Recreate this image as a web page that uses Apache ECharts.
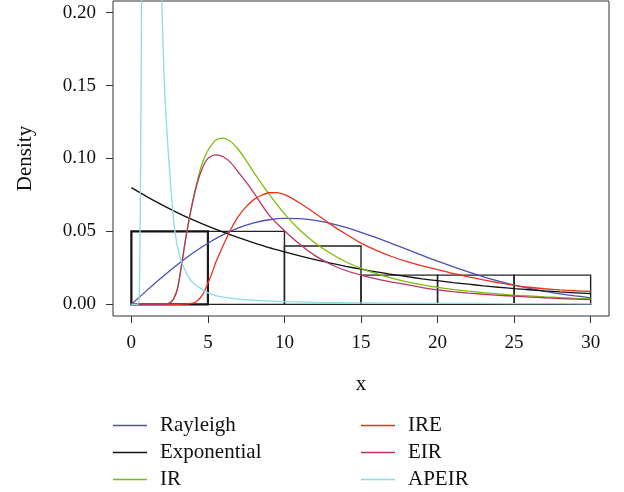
<!DOCTYPE html>
<html>
<head>
<meta charset="utf-8">
<script src="https://cdn.jsdelivr.net/npm/echarts@6/dist/echarts.min.js"></script>
<style>
  html, body { margin: 0; padding: 0; background: #fff; }
  #chart { width: 624px; height: 492px; }
</style>
</head>
<body>
<div id="chart"></div>
<script>
// ---- tick labels ----
const xTicks = [0, 5, 10, 15, 20, 25, 30];
const yTicks = [0, 0.05, 0.10, 0.15, 0.20];

// ---- histogram bins: [start, end, density] ----
const binStart = [0, 5, 10, 15, 20, 25];
const binEnd   = [5, 10, 15, 20, 25, 30];
const binDens  = [0.05, 0.05, 0.04, 0.02, 0.02, 0.02];

// ---- Rayleigh ----
const xRay = [0,1,2,3,4,5,6,7,8,9,10,11,12,13,14,15,16,17,18,19,20,21,22,23,24,25,26,27,28,29,30];
const yRay = [0,0.0094,0.0185,0.0271,0.0350,0.0419,0.0478,0.0524,0.0558,0.0580,0.0589,0.0588,0.0576,0.0555,0.0527,0.0494,0.0457,0.0417,0.0377,0.0336,0.0296,0.0258,0.0222,0.0189,0.0159,0.0132,0.0109,0.0089,0.0072,0.0058,0.0045];

// ---- Exponential ----
const xExp = [0,1,2,3,4,5,6,7,8,9,10,11,12,13,14,15,16,17,18,19,20,21,22,23,24,25,26,27,28,29,30];
const yExp = [0.0800,0.0739,0.0682,0.0629,0.0581,0.0536,0.0495,0.0457,0.0422,0.0389,0.0360,0.0332,0.0306,0.0283,0.0261,0.0241,0.0223,0.0205,0.0190,0.0175,0.0162,0.0149,0.0138,0.0127,0.0117,0.0108,0.0100,0.0092,0.0085,0.0079,0.0073];

// ---- IR and EIR (shared x) ----
const xIR = [0,1,2,2.25,2.5,2.75,3,3.25,3.5,3.75,4,4.25,4.5,4.75,5,5.5,6,6.5,7,7.5,8,9,10,11,12,13,14,15,16,17,18,19,20,21,22,23,24,25,26,27,28,29,30];
const yIR = [0,0,0,0.0002,0.0012,0.0040,0.0105,0.0250,0.0420,0.0570,0.0705,0.0820,0.0925,0.1000,0.1055,0.1125,0.1140,0.1115,0.1060,0.0985,0.0905,0.0755,0.0620,0.0510,0.0420,0.0350,0.0292,0.0247,0.0210,0.0179,0.0154,0.0133,0.0116,0.0102,0.0090,0.0080,0.0071,0.0063,0.0057,0.0051,0.0046,0.0041,0.0037];
const yEIR = [0,0,0,0.0001,0.0008,0.0035,0.0100,0.0250,0.0420,0.0570,0.0700,0.0810,0.0895,0.0960,0.1000,0.1025,0.1012,0.0970,0.0905,0.0838,0.0765,0.0612,0.0505,0.0412,0.0334,0.0275,0.0232,0.0200,0.0174,0.0153,0.0135,0.0115,0.0099,0.0087,0.0077,0.0069,0.0062,0.0056,0.0050,0.0045,0.0040,0.0036,0.0032];

// ---- IRE ----
const xIRE = [0,1,2,3,3.5,4,4.25,4.5,4.75,5,5.25,5.5,5.75,6,6.5,7,7.5,8,8.5,9,9.5,10,10.5,11,12,13,14,15,16,17,18,19,20,21,22,23,24,25,26,27,28,29,30];
const yIRE = [0,0,0,0,0.0001,0.0008,0.0020,0.0045,0.0085,0.0145,0.0210,0.0285,0.0345,0.0405,0.0515,0.0605,0.0670,0.0718,0.0748,0.0765,0.0766,0.0752,0.0727,0.0695,0.0625,0.0550,0.0482,0.0420,0.0370,0.0328,0.0293,0.0264,0.0238,0.0212,0.0189,0.0168,0.0148,0.0130,0.0117,0.0107,0.0099,0.0093,0.0088];

// ---- APEIR ----
const xAP = [0,0.4,0.5,0.55,0.6,0.65,0.7,0.8,1.0,1.3,1.6,1.8,1.9,2.0,2.1,2.2,2.3,2.4,2.6,2.8,3.0,3.25,3.5,3.75,4,4.5,5,5.5,6,7,8,9,10,12,15,20,25,30];
const yAP = [0,0,0.002,0.03,0.09,0.18,0.32,0.7,1.2,0.9,0.5,0.32,0.25,0.203,0.168,0.141,0.122,0.106,0.077,0.054,0.040,0.030,0.0235,0.0185,0.0150,0.0111,0.0078,0.0060,0.0050,0.0036,0.0028,0.0023,0.0019,0.0014,0.0010,0.0007,0.0005,0.0004];

const zip = (xs, ys) => xs.map((x, i) => [x, ys[i]]);
const FONT = 'Liberation Serif';

const lineSeries = (name, xs, ys, color, smooth) => ({
  name, type: 'line', data: zip(xs, ys), showSymbol: false, symbol: 'none',
  smooth: smooth, clip: true,
  lineStyle: { color, width: 1.3 }, itemStyle: { color },
  emphasis: { disabled: true }, z: 3
});

const legendBase = {
  orient: 'vertical', top: 415, height: 90, padding: 0, icon: 'rect',
  itemWidth: 34, itemHeight: 1.5, itemGap: 6,
  textStyle: { fontFamily: FONT, fontSize: 21, color: '#111', lineHeight: 20, padding: [0, 0, 0, 8] },
  selectedMode: false
};

const chart = echarts.init(document.getElementById('chart'), null, { renderer: 'canvas' });
chart.setOption({
  animation: false,
  backgroundColor: '#fff',
  grid: { left: 113, right: 15, top: 1, bottom: 176, show: true, borderColor: '#333', borderWidth: 1, backgroundColor: 'transparent' },
  xAxis: {
    type: 'value', min: -1.2, max: 31.2,
    name: 'x', nameLocation: 'middle', nameGap: 58,
    nameTextStyle: { fontFamily: FONT, fontSize: 21, color: '#111' },
    axisLine: { show: false, onZero: false },
    splitLine: { show: false },
    axisTick: { show: true, inside: false, length: 7, lineStyle: { color: '#333', width: 1 }, customValues: xTicks },
    axisLabel: { customValues: xTicks, margin: 18, fontFamily: FONT, fontSize: 19, color: '#111', formatter: v => String(v) }
  },
  yAxis: {
    type: 'value', min: -0.008, max: 0.208,
    name: 'Density', nameLocation: 'middle', nameGap: 77, nameRotate: 90,
    nameTextStyle: { fontFamily: FONT, fontSize: 21, color: '#111' },
    axisLine: { show: false, onZero: false },
    splitLine: { show: false },
    axisTick: { show: true, inside: false, length: 7, lineStyle: { color: '#333', width: 1 }, customValues: yTicks },
    axisLabel: { customValues: yTicks, margin: 17, fontFamily: FONT, fontSize: 19, color: '#111', formatter: v => v.toFixed(2) }
  },
  legend: [
    Object.assign({}, legendBase, { left: 113, data: ['Rayleigh', 'Exponential', 'IR'] }),
    Object.assign({}, legendBase, { left: 361, data: ['IRE', 'EIR', 'APEIR'] })
  ],
  series: [
    {
      name: 'hist', type: 'custom', z: 2,
      data: binStart.map((s, i) => [s, binEnd[i], binDens[i]]),
      encode: { x: [0, 1], y: 2 },
      renderItem: (params, api) => {
        const p0 = api.coord([api.value(0), 0]);
        const p1 = api.coord([api.value(1), api.value(2)]);
        return {
          type: 'rect',
          shape: { x: p0[0], y: p1[1], width: p1[0] - p0[0], height: p0[1] - p1[1] },
          style: { fill: 'none', stroke: params.dataIndex === 0 ? '#111' : '#222', lineWidth: params.dataIndex === 0 ? 2.2 : 1.4 }
        };
      }
    },
    lineSeries('Rayleigh', xRay, yRay, '#4b50b4', 0.3),
    lineSeries('Exponential', xExp, yExp, '#111111', 0.3),
    lineSeries('IR', xIR, yIR, '#78c00a', 0.3),
    lineSeries('IRE', xIRE, yIRE, '#e8321c', 0.3),
    lineSeries('EIR', xIR, yEIR, '#b8336a', 0.3),
    lineSeries('APEIR', xAP, yAP, '#8fdbe6', 0.2)
  ]
});
</script>
</body>
</html>
